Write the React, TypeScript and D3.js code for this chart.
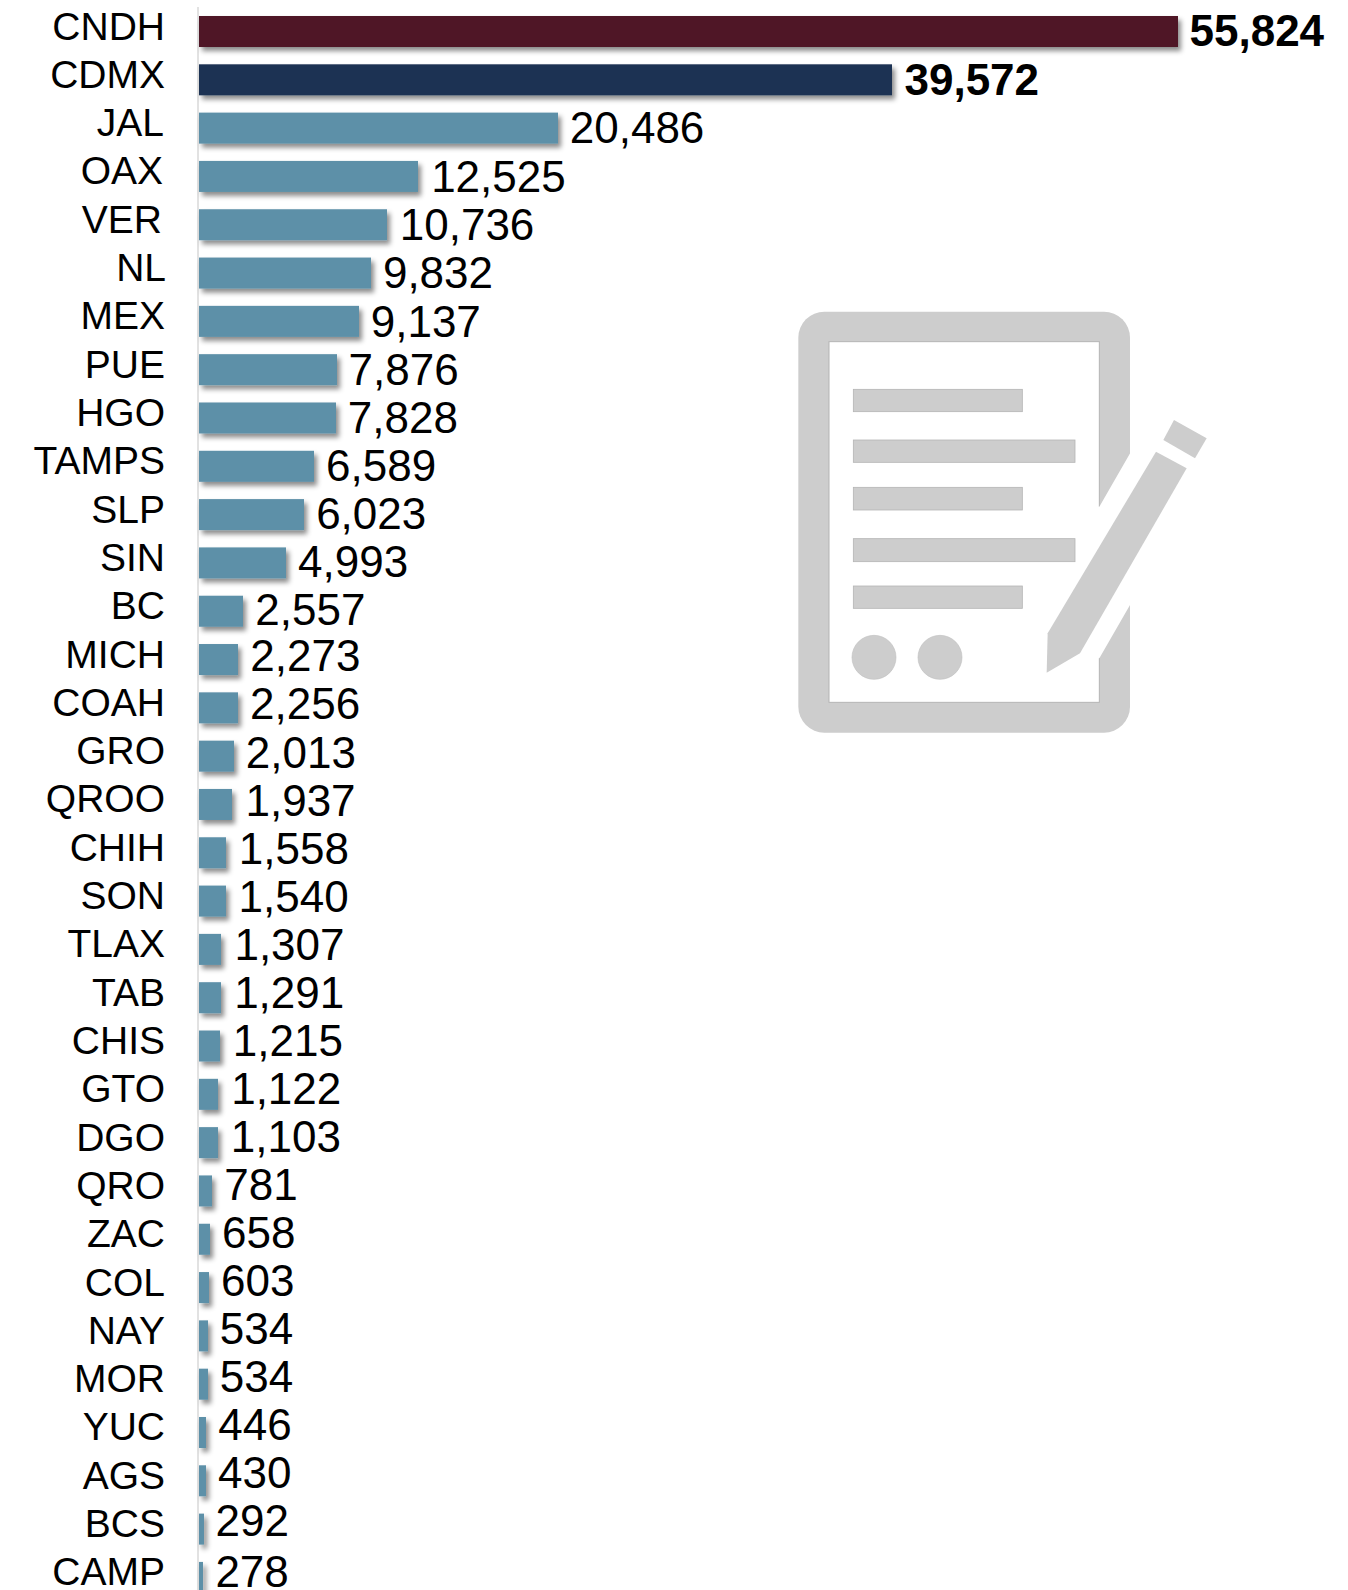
import React from "react";
import * as d3 from "d3";

const categories = ["CNDH","CDMX","JAL","OAX","VER","NL","MEX","PUE","HGO","TAMPS","SLP","SIN","BC","MICH","COAH","GRO","QROO","CHIH","SON","TLAX","TAB","CHIS","GTO","DGO","QRO","ZAC","COL","NAY","MOR","YUC","AGS","BCS","CAMP"];
const values = [55824,39572,20486,12525,10736,9832,9137,7876,7828,6589,6023,4993,2557,2273,2256,2013,1937,1558,1540,1307,1291,1215,1122,1103,781,658,603,534,534,446,430,292,278];
const boldCategories = ["CNDH","CDMX"];
const barColors: Record<string,string> = { CNDH: "#501627", CDMX: "#1a3152" };
const defaultColor = "#5d90a8";
const labelNudge: Record<string,number> = { VER: -3, OAX: -2, JAL: -1, NL: 1 };

const W = 1348, H = 1590;
const x = d3.scaleLinear().domain([0, 55824]).range([199, 1178]);
const step = 48.31;
const y = d3.scaleBand<string>().domain(categories).range([16 - 8.65, 16 - 8.65 + step * categories.length]).paddingInner(0.358).paddingOuter(0.179);
const valueDy = d3.scaleLinear().domain([0, 1, 2, 7, 11, 12, 13, 31, 32]).range([14, 15, 15, 15.5, 14.5, 13.5, 11.9, 7, 10]);
const fmt = d3.format(",");
const FONT = "'Liberation Sans', Arial, Helvetica, sans-serif";

function Icon() {
  const px = (a: number) => 780 + a / 3;
  const py = (a: number) => 300 + a / 3;
  const poly = (pts: number[][]) => pts.map(([a, b]) => `${px(a)},${py(b)}`).join(" ");
  const lines = [[268,335,727],[420,487,885],[562,630,727],[716,785,885],[858,925,727]];
  const fill = "#cdcdcd";
  const edge = "#b4b4b4";
  return (
    <g>
      <rect x={px(55)} y={py(35)} width={(1050-55)/3} height={(1298-35)/3} rx={26} fill={fill} />
      <rect x={px(147)} y={py(125)} width={(958-147)/3} height={(1207-125)/3} fill="#fff" stroke={edge} strokeWidth={1} />
      <polygon points={poly([[958,620],[1052,457],[1060,457],[1060,910],[1050,915],[958,1075],[950,1075],[950,620]])} fill="#fff" />
      {lines.map(([t,b,r], i) => (
        <rect key={i} x={px(220)} y={py(t)} width={(r-220)/3} height={(b-t)/3} fill={fill} stroke={edge} strokeWidth={0.8} />
      ))}
      <circle cx={px(282)} cy={py(1072)} r={22} fill={fill} stroke="#c0c0c0" strokeWidth={0.6} />
      <circle cx={px(480)} cy={py(1072)} r={22} fill={fill} stroke="#c0c0c0" strokeWidth={0.6} />
      <polygon points={poly([[1128,455],[1220,505],[900,1060],[800,1118],[803,1000]])} fill={fill} />
      <polygon points={poly([[1182,360],[1280,415],[1245,475],[1150,420]])} fill={fill} />
    </g>
  );
}

export default function App() {
  return (
    <svg width={W} height={H} viewBox={`0 0 ${W} ${H}`} style={{ position: "absolute", left: 0, top: 0, background: "#fff" }}>
      <defs>
        <filter id="barShadow" x="-20%" y="-30%" width="140%" height="170%" filterUnits="objectBoundingBox">
          <feDropShadow dx={3} dy={4} stdDeviation={2.4} floodColor="#000" floodOpacity={0.45} />
        </filter>
        <filter id="smallShadow" x="-100%" y="-30%" width="400%" height="170%" filterUnits="objectBoundingBox">
          <feDropShadow dx={3} dy={4} stdDeviation={2.4} floodColor="#000" floodOpacity={0.45} />
        </filter>
      </defs>
      <line x1={198} x2={198} y1={7} y2={H} stroke="#d9d9d9" strokeWidth={1.5} />
      {categories.map((c, i) => {
        const v = values[i];
        const top = y(c)!;
        const bh = y.bandwidth();
        const cy = top + bh / 2;
        const bold = boldCategories.includes(c);
        const dx = String(v)[0] === "1" ? 12.5 : 11.5;
        return (
          <g key={c}>
            <rect x={x(0)} y={top} width={Math.floor(x(v) - x(0))} height={bh} fill={barColors[c] ?? defaultColor}
              filter={`url(#${v < 3000 ? "smallShadow" : "barShadow"})`} />
            <text x={165 + (labelNudge[c] ?? 0)} y={cy + 8} textAnchor="end" fontFamily={FONT} fontSize={39} fill="#000">{c}</text>
            <text x={x(v) + dx} y={cy + valueDy(i)} fontFamily={FONT} fontSize={44} fontWeight={bold ? 700 : 400} fill="#000">{fmt(v)}</text>
          </g>
        );
      })}
      <Icon />
    </svg>
  );
}
